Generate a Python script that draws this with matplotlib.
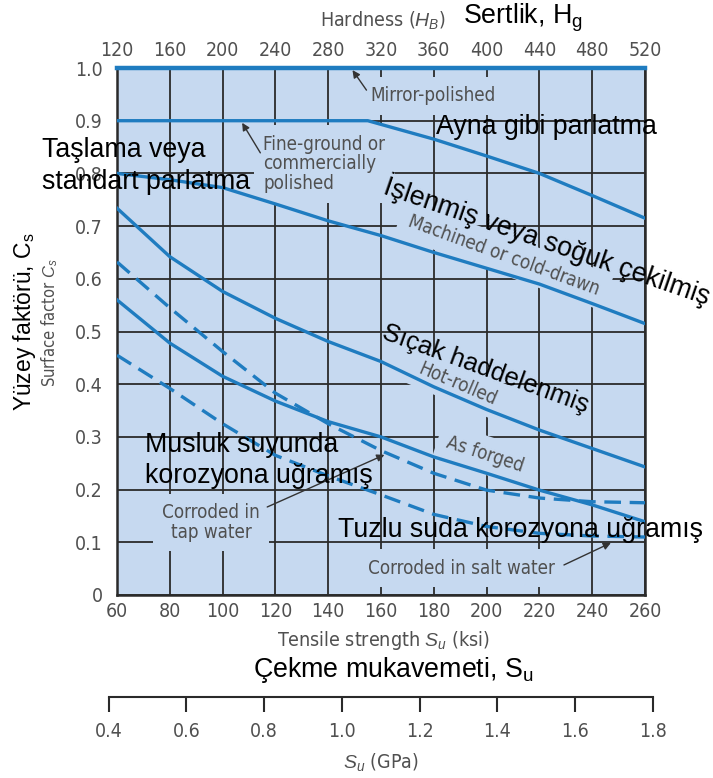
import matplotlib
matplotlib.use('Agg')
from matplotlib import pyplot as plt
from matplotlib import font_manager

# tensile strength (ksi) at each reading
ksi = [60, 80, 100, 120, 140, 160, 180, 200, 220, 240, 260]

mirror_polished = [1.0, 1.0, 1.0, 1.0, 1.0, 1.0, 1.0, 1.0, 1.0, 1.0, 1.0]
fine_ground_ksi = [60, 100, 155, 180, 200, 220, 240, 260]
fine_ground = [0.90, 0.90, 0.90, 0.865, 0.833, 0.80, 0.758, 0.715]
machined = [0.80, 0.788, 0.773, 0.742, 0.71, 0.682, 0.65, 0.62, 0.59, 0.553, 0.515]
hot_rolled = [0.734, 0.642, 0.576, 0.525, 0.481, 0.443, 0.395, 0.352, 0.313, 0.278, 0.243]
tap_water = [0.632, 0.545, 0.462, 0.383, 0.325, 0.274, 0.231, 0.199, 0.184, 0.177, 0.175]
as_forged = [0.56, 0.478, 0.415, 0.368, 0.329, 0.30, 0.262, 0.231, 0.199, 0.171, 0.139]
salt_water = [0.455, 0.392, 0.325, 0.265, 0.226, 0.19, 0.153, 0.13, 0.117, 0.112, 0.11]

cs_ticks = [0, 0.1, 0.2, 0.3, 0.4, 0.5, 0.6, 0.7, 0.8, 0.9, 1.0]
cs_labels = ['0', '0.1', '0.2', '0.3', '0.4', '0.5', '0.6', '0.7', '0.8', '0.9', '1.0']
hb_ticks = [120, 160, 200, 240, 280, 320, 360, 400, 440, 480, 520]
gpa_ticks = [0.4, 0.6, 0.8, 1.0, 1.2, 1.4, 1.6, 1.8]

W, H = 713, 778
BG = '#c6d9f0'
BLUE = '#1f7cc0'
GRAY = '#505050'
TR = ['Liberation Sans', 'DejaVu Sans']

# narrow face for the english labels, whichever one is installed
faces = {(f.name, f.stretch) for f in font_manager.fontManager.ttflist}
if any(n == 'Liberation Sans Narrow' for n, _ in faces):
    NARROW = dict(family=['Liberation Sans Narrow', 'DejaVu Sans'])
    scale = 1.12
elif ('DejaVu Sans', 'condensed') in faces or ('DejaVu Sans', 600) in faces:
    NARROW = dict(family=['DejaVu Sans'], stretch='condensed')
    scale = 1.08
else:
    NARROW = dict(family=['Liberation Sans', 'DejaVu Sans'])
    scale = 1.05

plt.rcParams['mathtext.fontset'] = 'custom'
plt.rcParams['mathtext.rm'] = 'Liberation Sans'
plt.rcParams['mathtext.it'] = 'Liberation Sans:italic'


def fx(px):
    return px / W


def fy(py):
    return 1 - py / H


def narrow(lab, size):
    lab.set_family(NARROW['family'])
    if 'stretch' in NARROW:
        lab.set_stretch(NARROW['stretch'])
    lab.set_size(size * scale)


fig = plt.figure(figsize=(W / 100, H / 100), dpi=100)
ax = fig.add_axes([fx(117), fy(595), (645 - 117) / W, (595 - 68) / H])
ax.set_facecolor(BG)
ax.set_xlim(60, 260)
ax.set_ylim(0, 1.0)
ax.set_xticks(ksi)
ax.set_yticks(cs_ticks)
ax.set_yticklabels(cs_labels)
ax.set_axisbelow(True)
ax.grid(color='#2a2a2a', linewidth=1.3)
ax.tick_params(length=0, labelcolor=GRAY)
ax.tick_params(axis='x', pad=5)
ax.tick_params(axis='y', pad=10)
for lab in ax.get_xticklabels() + ax.get_yticklabels():
    narrow(lab, 13)
for s in ['left', 'bottom', 'right']:
    ax.spines[s].set_color('#2a2a2a')
    ax.spines[s].set_linewidth(1.8)
ax.spines['top'].set_visible(False)

# hardness scale on top
ax_top = ax.twiny()
ax_top.set_xlim(hb_ticks[0], hb_ticks[-1])
ax_top.set_xticks(hb_ticks)
ax_top.tick_params(length=0, labelcolor=GRAY, pad=6)
for lab in ax_top.get_xticklabels():
    narrow(lab, 13)
for s in ax_top.spines.values():
    s.set_visible(False)

lw = 2.4
dash = (0, (5, 2.6))
ax.plot(ksi, mirror_polished, color=BLUE, lw=3.2, zorder=4, clip_on=False)
ax.plot(fine_ground_ksi, fine_ground, color=BLUE, lw=lw, zorder=4)
ax.plot(ksi, machined, color=BLUE, lw=lw, zorder=4)
ax.plot(ksi, hot_rolled, color=BLUE, lw=lw, zorder=4)
ax.plot(ksi, tap_water, color=BLUE, lw=lw, ls=dash, zorder=4)
ax.plot(ksi, as_forged, color=BLUE, lw=lw, zorder=4)
ax.plot(ksi, salt_water, color=BLUE, lw=lw, ls=dash, zorder=4)

# label backgrounds blank out the grid behind them
box = dict(facecolor=BG, edgecolor='none', pad=5)
arrow = dict(arrowstyle='-|>', color='#333333', lw=1.0, mutation_scale=11,
             shrinkA=0, shrinkB=0)


def en(x, y, s, rot=0, ha='left', **kw):
    t = ax.text(x, y, s, color=GRAY, rotation=rot, ha=ha, va='center',
                rotation_mode='anchor', bbox=box, zorder=3, linespacing=1.05, **kw)
    narrow(t, 12.5)


def tr(x, y, s, rot=0, ha='left', size=19.3):
    ax.text(x, y, s, color='black', fontsize=size, family=TR, rotation=rot,
            ha=ha, va='center', rotation_mode='anchor', zorder=6,
            linespacing=1.28, clip_on=False)


# english curve labels
en(156, 0.947, 'Mirror-polished')
ax.annotate('', xy=(149.2, 0.996), xytext=(154.5, 0.958), arrowprops=arrow, zorder=5)
en(115.4, 0.818, 'Fine-ground or\ncommercially\npolished')
ax.annotate('', xy=(107.4, 0.896), xytext=(114.3, 0.839), arrowprops=arrow, zorder=5)
en(206.5, 0.645, 'Machined or cold-drawn', rot=-20, ha='center')
en(189, 0.40, 'Hot-rolled', rot=-23, ha='center')
en(199.3, 0.266, 'As forged', rot=-18, ha='center')
en(95.7, 0.138, 'Corroded in\ntap water', ha='center', multialignment='center')
ax.annotate('', xy=(161.3, 0.266), xytext=(116.9, 0.167), arrowprops=arrow, zorder=5)
en(154.9, 0.051, 'Corroded in salt water')
ax.annotate('', xy=(247.1, 0.099), xytext=(229.3, 0.057), arrowprops=arrow, zorder=5)

# turkish labels drawn over the chart
tr(31.5, 0.814, 'Taşlama veya\nstandart parlatma')
tr(180.7, 0.888, 'Ayna gibi parlatma')
tr(222.8, 0.672, 'İşlenmiş veya soğuk çekilmiş', rot=-19, ha='center')
tr(199.5, 0.428, 'Sıçak haddelenmiş', rot=-20, ha='center', size=18.5)
tr(70.6, 0.255, 'Musluk suyunda\nkorozyona uğramış')
tr(143.9, 0.123, 'Tuzlu suda korozyona uğramış')

# axis titles
t = fig.text(fx(383), fy(20), 'Hardness ($H_B$)', color=GRAY, ha='center', va='center')
narrow(t, 13)
fig.text(fx(463), fy(18), 'Sertlik, H$_\\mathrm{g}$', color='black', fontsize=19.3,
         family=TR, ha='left', va='center')
fig.text(fx(25), fy(322), 'Yüzey faktörü, C$_\\mathrm{s}$', color='black', fontsize=16.5,
         family=TR, ha='center', va='center', rotation=90)
t = fig.text(fx(50), fy(323), 'Surface factor $C_s$', color=GRAY,
             ha='center', va='center', rotation=90)
narrow(t, 11)
t = fig.text(fx(383), fy(640), 'Tensile strength $S_u$ (ksi)', color=GRAY,
             ha='center', va='center')
narrow(t, 13)
fig.text(fx(393), fy(670), 'Çekme mukavemeti, S$_\\mathrm{u}$', color='black',
         fontsize=19.3, family=TR, ha='center', va='center')

# GPa scale below
ax_gpa = fig.add_axes([fx(108.7), fy(697), (653 - 108.7) / W, 0.001])
ax_gpa.set_xlim(gpa_ticks[0], gpa_ticks[-1])
ax_gpa.set_xticks(gpa_ticks)
ax_gpa.set_xticklabels(['%.1f' % g for g in gpa_ticks])
ax_gpa.set_yticks([])
ax_gpa.patch.set_visible(False)
for s in ['left', 'right', 'top']:
    ax_gpa.spines[s].set_visible(False)
ax_gpa.spines['bottom'].set_color('#2a2a2a')
ax_gpa.spines['bottom'].set_linewidth(1.5)
ax_gpa.tick_params(axis='x', length=11, width=1.5, color='#2a2a2a',
                   labelcolor=GRAY, pad=7)
for lab in ax_gpa.get_xticklabels():
    narrow(lab, 13)
t = fig.text(fx(381), fy(762), '$S_u$ (GPa)', color=GRAY, ha='center', va='center')
narrow(t, 13)

fig.savefig('out.png', dpi=100)
